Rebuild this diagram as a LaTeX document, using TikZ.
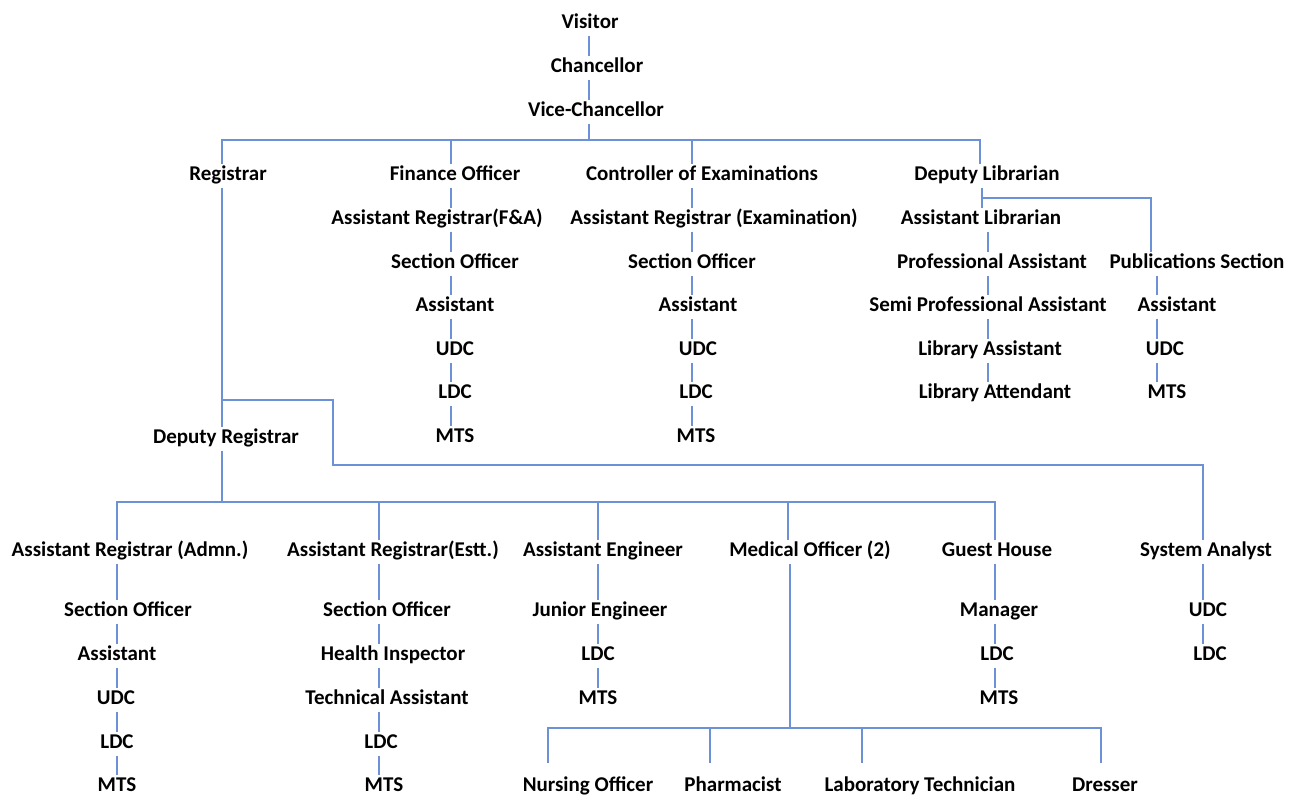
\documentclass[tikz,border=0pt]{standalone}
\usepackage{fontspec}
\setmainfont{Carlito}
\definecolor{linkblue}{RGB}{108,145,214}
\tikzset{
    x=1pt,
    y=-1pt,
    post/.style = {
        font=\bfseries\fontsize{21}{23}\selectfont,
        inner xsep=1pt,
        inner ysep=3pt,
        text height=13pt,
        text depth=4pt,
        yshift=-2pt
    },
    link/.style = {
        draw=linkblue,
        line width=1.6pt
    },
}

\begin{document}
\begin{tikzpicture}
            \useasboundingbox (0,0) rectangle (1289,795);

            % top of the tree
            \node[post] (vis) at (590,22) {Visitor};
            \node[post] (chan) at (597,66) {Chancellor};
            \node[post] (vc) at (596,110) {Vice-Chancellor};
            \node[post] (reg) at (228,174) {Registrar};
            \node[post] (fin) at (455,174) {Finance Officer};
            \node[post] (coe) at (702,174) {Controller of Examinations};
            \node[post] (dlib) at (987,174) {Deputy Librarian};

            \node[post] (arfa) at (437,218) {Assistant Registrar(F\&A)};
            \node[post] (fso) at (455,262) {Section Officer};
            \node[post] (fasst) at (455,305) {Assistant};
            \node[post] (fudc) at (455,349) {UDC};
            \node[post] (fldc) at (455,392) {LDC};
            \node[post] (fmts) at (455,436) {MTS};

            \node[post] (arex) at (714,218) {Assistant Registrar (Examination)};
            \node[post] (eso) at (692,262) {Section Officer};
            \node[post] (easst) at (698,305) {Assistant};
            \node[post] (eudc) at (698,349) {UDC};
            \node[post] (eldc) at (696,392) {LDC};
            \node[post] (emts) at (696,436) {MTS};

            \node[post] (alib) at (981,218) {Assistant Librarian};
            \node[post] (prof) at (992,262) {Professional Assistant};
            \node[post] (semi) at (988,305) {Semi Professional Assistant};
            \node[post] (lasst) at (990,349) {Library Assistant};
            \node[post] (latt) at (995,392) {Library Attendant};
            \node[post] (pubs) at (1197,262) {Publications Section};
            \node[post] (passt) at (1177,305) {Assistant};
            \node[post] (pudc) at (1165,349) {UDC};
            \node[post] (pmts) at (1167,392) {MTS};

            % under the registrar
            \node[post] (dreg) at (226,437) {Deputy Registrar};
            \node[post] (aradm) at (130,550) {Assistant Registrar (Admn.)};
            \node[post] (arest) at (393,550) {Assistant Registrar(Estt.)};
            \node[post] (aeng) at (603,550) {Assistant Engineer};
            \node[post] (medo) at (810,550) {Medical Officer (2)};
            \node[post] (ghouse) at (997,550) {Guest House};
            \node[post] (sysa) at (1206,550) {System Analyst};

            \node[post] (aso) at (128,610) {Section Officer};
            \node[post] (aasst) at (117,654) {Assistant};
            \node[post] (audc) at (116,698) {UDC};
            \node[post] (aldc) at (117,742) {LDC};
            \node[post] (amts) at (117,785) {MTS};

            \node[post] (sso) at (387,610) {Section Officer};
            \node[post] (hins) at (393,654) {Health Inspector};
            \node[post] (tech) at (387,698) {Technical Assistant};
            \node[post] (sldc) at (381,742) {LDC};
            \node[post] (smts) at (384,785) {MTS};

            \node[post] (jeng) at (600,610) {Junior Engineer};
            \node[post] (nldc) at (598,654) {LDC};
            \node[post] (nmts) at (598,698) {MTS};

            \node[post] (mgr) at (999,610) {Manager};
            \node[post] (hldc) at (997,654) {LDC};
            \node[post] (hmts) at (999,698) {MTS};

            \node[post] (yudc) at (1208,610) {UDC};
            \node[post] (yldc) at (1210,654) {LDC};

            \node[post] (nurse) at (588,785) {Nursing Officer};
            \node[post] (pharm) at (733,785) {Pharmacist};
            \node[post] (lab) at (920,785) {Laboratory Technician};
            \node[post] (dress) at (1105,785) {Dresser};

            % spines and junctions
            \coordinate (xtop) at (589,0);
            \coordinate (xreg) at (222,0);
            \coordinate (xfin) at (451,0);
            \coordinate (xcoe) at (692,0);
            \coordinate (xdlib) at (980,0);
            \coordinate (xlib) at (988,0);
            \coordinate (xpub) at (1157,0);
            \coordinate (xpubtop) at (1151,0);
            \coordinate (xadm) at (117,0);
            \coordinate (xest) at (379,0);
            \coordinate (xeng) at (598,0);
            \coordinate (xmed) at (788,0);
            \coordinate (xgh) at (995,0);
            \coordinate (xsa) at (1203,0);
            \coordinate (xnurse) at (548,0);
            \coordinate (xpharm) at (710,0);
            \coordinate (xlab) at (862,0);
            \coordinate (xdress) at (1101,0);
            \coordinate (bar1) at (589,140);
            \coordinate (bar2) at (222,502);
            \coordinate (bar3) at (790,728);
            \coordinate (jreg) at (222,400);
            \coordinate (jsa) at (333,465);
            \coordinate (jpub) at (982,198);

            \path[link] (vis.south -| xtop) -- (chan.north -| xtop);
            \path[link] (chan.south -| xtop) -- (vc.north -| xtop);
            \path[link] (vc.south -| xtop) -- (bar1);
            \path[link] (reg.north -| xreg) |- (bar1);
            \path[link] (dlib.north -| xdlib) |- (bar1);
            \path[link] (fin.north -| xfin) -- (xfin |- bar1);
            \path[link] (coe.north -| xcoe) -- (xcoe |- bar1);

            \path[link] (fin.south -| xfin) -- (arfa.north -| xfin);
            \path[link] (arfa.south -| xfin) -- (fso.north -| xfin);
            \path[link] (fso.south -| xfin) -- (fasst.north -| xfin);
            \path[link] (fasst.south -| xfin) -- (fudc.north -| xfin);
            \path[link] (fudc.south -| xfin) -- (fldc.north -| xfin);
            \path[link] (fldc.south -| xfin) -- (fmts.north -| xfin);

            \path[link] (coe.south -| xcoe) -- (arex.north -| xcoe);
            \path[link] (arex.south -| xcoe) -- (eso.north -| xcoe);
            \path[link] (eso.south -| xcoe) -- (easst.north -| xcoe);
            \path[link] (easst.south -| xcoe) -- (eudc.north -| xcoe);
            \path[link] (eudc.south -| xcoe) -- (eldc.north -| xcoe);
            \path[link] (eldc.south -| xcoe) -- (emts.north -| xcoe);

            \path[link] (dlib.south -| jpub) -- (alib.north -| jpub);
            \path[link] (jpub) -| (pubs.north -| xpubtop);
            \path[link] (alib.south -| xlib) -- (prof.north -| xlib);
            \path[link] (prof.south -| xlib) -- (semi.north -| xlib);
            \path[link] (semi.south -| xlib) -- (lasst.north -| xlib);
            \path[link] (lasst.south -| xlib) -- (latt.north -| xlib);
            \path[link] (pubs.south -| xpub) -- (passt.north -| xpub);
            \path[link] (passt.south -| xpub) -- (pudc.north -| xpub);
            \path[link] (pudc.south -| xpub) -- (pmts.north -| xpub);

            % registrar branch
            \path[link] (reg.south -| xreg) -- (dreg.north -| xreg);
            \path[link] (jreg) -| (jsa) -| (sysa.north -| xsa);
            \path[link] (dreg.south -| xreg) -- (bar2);
            \path[link] (aradm.north -| xadm) |- (bar2);
            \path[link] (ghouse.north -| xgh) |- (bar2);
            \path[link] (arest.north -| xest) -- (xest |- bar2);
            \path[link] (aeng.north -| xeng) -- (xeng |- bar2);
            \path[link] (medo.north -| xmed) -- (xmed |- bar2);

            \path[link] (aradm.south -| xadm) -- (aso.north -| xadm);
            \path[link] (aso.south -| xadm) -- (aasst.north -| xadm);
            \path[link] (aasst.south -| xadm) -- (audc.north -| xadm);
            \path[link] (audc.south -| xadm) -- (aldc.north -| xadm);
            \path[link] (aldc.south -| xadm) -- (amts.north -| xadm);

            \path[link] (arest.south -| xest) -- (sso.north -| xest);
            \path[link] (sso.south -| xest) -- (hins.north -| xest);
            \path[link] (hins.south -| xest) -- (tech.north -| xest);
            \path[link] (tech.south -| xest) -- (sldc.north -| xest);
            \path[link] (sldc.south -| xest) -- (smts.north -| xest);

            \path[link] (aeng.south -| xeng) -- (jeng.north -| xeng);
            \path[link] (jeng.south -| xeng) -- (nldc.north -| xeng);
            \path[link] (nldc.south -| xeng) -- (nmts.north -| xeng);

            \path[link] (ghouse.south -| xgh) -- (mgr.north -| xgh);
            \path[link] (mgr.south -| xgh) -- (hldc.north -| xgh);
            \path[link] (hldc.south -| xgh) -- (hmts.north -| xgh);

            \path[link] (sysa.south -| xsa) -- (yudc.north -| xsa);
            \path[link] (yudc.south -| xsa) -- (yldc.north -| xsa);

            % medical officer
            \path[link] (medo.south -| bar3) -- (bar3);
            \path[link, shorten <=12pt] (nurse.north -| xnurse) |- (bar3);
            \path[link, shorten <=12pt] (dress.north -| xdress) |- (bar3);
            \path[link, shorten <=12pt] (pharm.north -| xpharm) -- (xpharm |- bar3);
            \path[link, shorten <=12pt] (lab.north -| xlab) -- (xlab |- bar3);
\end{tikzpicture}
\end{document}
